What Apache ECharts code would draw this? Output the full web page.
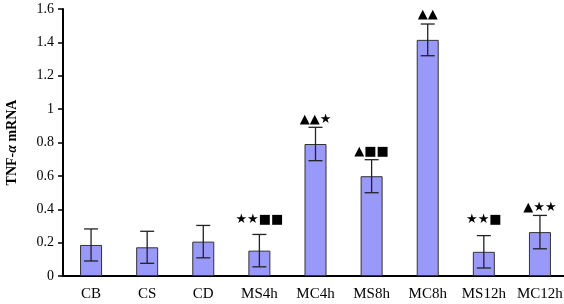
<!DOCTYPE html>
<html><head><meta charset="utf-8">
<script src="https://cdn.jsdelivr.net/npm/echarts@6/dist/echarts.min.js"></script>
<style>html,body{margin:0;padding:0;background:#fff}#c{width:564px;height:304px}</style>
</head><body><div id="c"></div>
<script>
const categories = ['CB','CS','CD','MS4h','MC4h','MS8h','MC8h','MS12h','MC12h'];
const means = [0.186, 0.172, 0.206, 0.152, 0.791, 0.598, 1.415, 0.145, 0.263];
const errors = [0.096, 0.096, 0.097, 0.097, 0.100, 0.099, 0.095, 0.097, 0.100];
const marks = ['', '', '', '★★■■', '▲▲★', '▲■■', '▲▲', '★★■', '▲★★'];
const yTicks = {min: 0, max: 1.6, step: 0.2};
// pixel gap between error-bar top and annotation centre (styling)
const labelGap = [0, 0, 0, 15, 8, 8, 9, 16, 8];

const chart = echarts.init(document.getElementById('c'));
const serif = '"Liberation Serif","Times New Roman",serif';
chart.setOption({
  animation: false,
  grid: {left: 63, right: -4, top: 9, bottom: 28, containLabel: false, outerBoundsMode: 'none'},
  xAxis: {
    type: 'category', data: categories,
    axisLine: {lineStyle: {color: '#000', width: 2}},
    axisTick: {show: false},
    axisLabel: {color: '#000', fontFamily: serif, fontSize: 15, margin: 11, interval: 0, hideOverlap: false}
  },
  yAxis: {
    type: 'value', min: yTicks.min, max: yTicks.max, interval: yTicks.step,
    axisLine: {show: true, lineStyle: {color: '#000', width: 2}},
    axisTick: {show: true, length: 5, lineStyle: {color: '#000', width: 1.5}},
    splitLine: {show: false},
    axisLabel: {color: '#000', fontFamily: serif, fontSize: 14, margin: 9,
      formatter: v => String(+v.toFixed(1))},
    name: '{b|TNF-}{i|α}{b| mRNA}',
    nameLocation: 'middle', nameGap: 44, nameRotate: 90,
    nameTextStyle: {rich: {
      b: {fontFamily: serif, fontSize: 14, fontWeight: 'bold', color: '#000'},
      i: {fontFamily: serif, fontSize: 14, fontWeight: 'bold', fontStyle: 'italic', color: '#000'}
    }}
  },
  series: [{
    type: 'bar', data: means, barWidth: 22,
    itemStyle: {color: '#9999fa', borderColor: '#333', borderWidth: 1}
  }, {
    type: 'custom',
    data: means.map((m, i) => [i, m - errors[i], m + errors[i]]),
    renderItem: (params, api) => {
      const i = api.value(0);
      const lo = api.coord([i, api.value(1)]);
      const hi = api.coord([i, api.value(2)]);
      const w = 7;
      const st = {stroke: '#222', lineWidth: 1.3};
      const children = [
        {type: 'line', shape: {x1: hi[0], y1: hi[1], x2: lo[0], y2: lo[1]}, style: st},
        {type: 'line', shape: {x1: hi[0]-w, y1: hi[1], x2: hi[0]+w, y2: hi[1]}, style: st},
        {type: 'line', shape: {x1: lo[0]-w, y1: lo[1], x2: lo[0]+w, y2: lo[1]}, style: st}
      ];
      if (marks[i]) {
        children.push({type: 'text', style: {
          text: marks[i], x: hi[0], y: hi[1] - labelGap[i],
          align: 'center', verticalAlign: 'middle',
          font: '13px "DejaVu Sans"', fill: '#000'
        }});
      }
      return {type: 'group', children};
    },
    z: 5
  }]
});
</script></body></html>
